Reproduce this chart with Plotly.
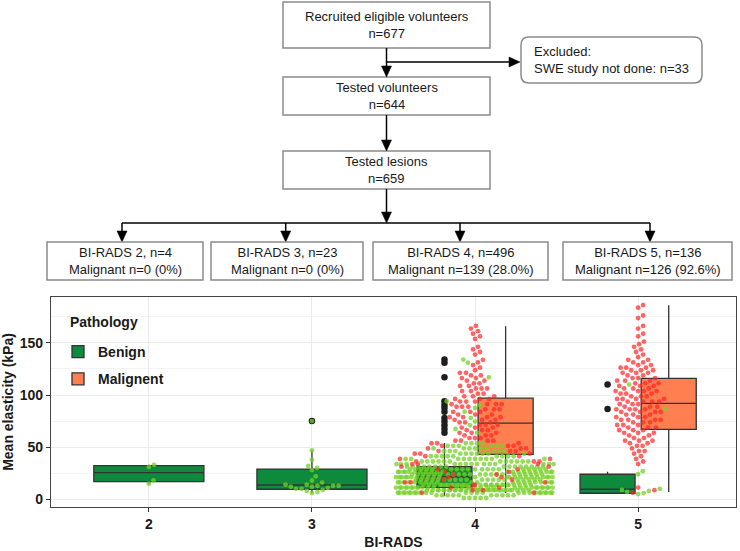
import numpy as np
import plotly.graph_objects as go

W, H = 740, 551

# ---------------- flowchart content ----------------
top_box_texts = ["Recruited eligible volunteers<br>n=677",
                 "Tested volunteers<br>n=644",
                 "Tested lesions<br>n=659"]
excluded_text = "Excluded:<br>SWE study not done: n=33"
birads_box_texts = ["BI-RADS 2, n=4<br>Malignant n=0 (0%)",
                    "BI-RADS 3, n=23<br>Malignant n=0 (0%)",
                    "BI-RADS 4, n=496<br>Malignant n=139 (28.0%)",
                    "BI-RADS 5, n=136<br>Malignant n=126 (92.6%)"]

# ---------------- chart data ----------------
categories = [2, 3, 4, 5]
tick_labels = ["2", "3", "4", "5"]
group_names = ["Benign", "Malignent"]
legend_title = "Pathology"

# box statistics (kPa)
benign_cats = [2, 3, 4, 5]
benign_q1 = [17.0, 9.6, 11.5, 5.8]
benign_median = [25.5, 13.7, 21.4, 9.6]
benign_q3 = [32.3, 29.0, 31.3, 24.0]
benign_lower = [15.0, 6.0, 3.0, 5.0]
benign_upper = [33.0, 47.0, 54.0, 26.5]

malig_cats = [4, 5]
malig_q1 = [43.0, 67.0]
malig_median = [73.0, 92.0]
malig_q3 = [97.0, 116.0]
malig_lower = [6.0, 7.0]
malig_upper = [166.0, 186.0]

# outliers (benign only)
benign_outliers_3 = [75.0]
benign_outliers_4 = [134, 131, 117, 94, 90.5, 87.6, 84, 78, 74.5, 71, 67.5, 63.7]
benign_outliers_5 = [110, 86.6]

# individual lesions (kPa)
benign_points_2 = [15, 18, 31, 33]
benign_points_3 = [6, 7, 8, 9, 10, 10, 11, 12, 12, 13, 13, 13, 14, 14, 16, 18,
                   22, 28, 30, 32, 38, 47, 75]
benign_points_5 = [5, 6, 7, 8, 9, 10, 24, 27, 86.6, 110]
# counts per 2.5 kPa bin starting at 0 (estimated from the swarm)
bin_width = 2.5
benign_counts_4 = [5, 10, 25, 30, 31, 29, 20, 20, 23, 22, 21, 19, 16, 14, 12, 10,
                   9, 7, 6, 6, 6, 4]
malig_counts_4 = [0, 0, 2, 2, 2, 2, 3, 2, 2, 2, 2, 2, 2, 3, 3, 2, 2, 3, 3, 3,
                  3, 3, 4, 3, 3, 3, 3, 3, 3, 3, 3, 4, 3, 3, 3, 3, 4, 3, 3, 3,
                  2, 2, 3, 2, 2, 2, 2, 2, 2, 1, 1, 1, 1, 1, 0, 1, 1, 1, 1, 0,
                  0, 1, 1, 1, 1, 1, 1, 0]
malig_counts_5 = [0, 0, 1, 1, 1, 0, 0, 0, 0, 0, 0, 0, 0, 1, 1, 1, 1, 1, 2, 1,
                  2, 2, 3, 2, 2, 3, 3, 3, 3, 3, 4, 3, 3, 4, 4, 3, 3, 4, 4, 3,
                  3, 4, 3, 3, 3, 3, 3, 2, 3, 3, 3, 2, 2, 2, 1, 1, 1, 1, 1, 1,
                  1, 0, 1, 1, 0, 1, 1, 0, 0, 1, 1, 0, 0, 1, 1, 0]


def expand(counts):
    vals = []
    for i, c in enumerate(counts):
        vals += [(i + 0.5) * bin_width] * c
    return vals


points = {
    2: (benign_points_2, []),
    3: (benign_points_3, []),
    4: (expand(benign_counts_4) + benign_outliers_4, expand(malig_counts_4)),
    5: (benign_points_5, expand(malig_counts_5)),
}

# ---------------- geometry of panel ----------------
X0, X1, Y0, Y1 = 51, 736, 297, 507
XR = [1.4, 5.6]
YR = [-7.4, 194]
ppx = (X1 - X0) / (XR[1] - XR[0])
ppy = (Y1 - Y0) / (YR[1] - YR[0])


def swarm(values, d=5.6, corral=0.97):
    vals = np.asarray(values, float)
    order = np.argsort(vals, kind="stable")
    P = np.zeros((0, 2))
    xs = np.zeros(len(vals))
    for idx in order:
        y = vals[idx] * ppy
        near = P[np.abs(P[:, 1] - y) < d] if len(P) else P
        if len(near):
            dy = near[:, 1] - y
            dx = np.sqrt(np.maximum(d * d - dy * dy, 0))
            c = np.concatenate([[0.0], near[:, 0] + dx, near[:, 0] - dx])
            c = c[np.argsort(np.abs(c), kind="stable")]
            ok = ((c[:, None] - near[None, :, 0]) ** 2 + dy[None, :] ** 2
                  >= d * d - 1e-6).all(axis=1)
            x = c[ok.argmax()]
        else:
            x = 0.0
        P = np.vstack([P, [x, y]])
        xs[idx] = x
    w = corral * ppx
    xs = ((xs + w / 2) % w) - w / 2
    return xs / ppx


bx, by, mx, my = [], [], [], []
for cat in categories:
    b, m = points[cat]
    allv = list(b) + list(m)
    off = swarm(allv)
    for k, v in enumerate(allv):
        if k < len(b):
            bx.append(cat + off[k]); by.append(v)
        else:
            mx.append(cat + off[k]); my.append(v)

DODGE, PAD = 0.75, 0.9


def dodge(cat, gi, n):
    w = DODGE / n
    return cat - DODGE / 2 + w * (gi + 0.5), w * PAD


GREEN_BOX = "#0E8A3C"
CORAL = "#FF7F50"
OUTLINE = "#333333"

fig = go.Figure()

n_groups = {c: (1 if c in (2, 3) else 2) for c in categories}
single = [i for i, c in enumerate(benign_cats) if n_groups[c] == 1]
double = [i for i, c in enumerate(benign_cats) if n_groups[c] == 2]
for sel, show in ((single, True), (double, False)):
    pos = [dodge(benign_cats[i], 0, n_groups[benign_cats[i]]) for i in sel]
    fig.add_trace(go.Box(
        x=[p[0] for p in pos], q1=[benign_q1[i] for i in sel],
        median=[benign_median[i] for i in sel], q3=[benign_q3[i] for i in sel],
        lowerfence=[benign_lower[i] for i in sel], upperfence=[benign_upper[i] for i in sel],
        width=pos[0][1], fillcolor=GREEN_BOX, line=dict(color=OUTLINE, width=1.3),
        whiskerwidth=0, boxpoints=False, name=group_names[0], legendgroup="b",
        showlegend=show, hoverinfo="skip"))
pos = [dodge(c, 1, 2) for c in malig_cats]
fig.add_trace(go.Box(
    x=[p[0] for p in pos], q1=malig_q1, median=malig_median, q3=malig_q3,
    lowerfence=malig_lower, upperfence=malig_upper, width=pos[0][1],
    fillcolor=CORAL, line=dict(color=OUTLINE, width=1.3), whiskerwidth=0,
    boxpoints=False, name=group_names[1], legendgroup="m", hoverinfo="skip"))

ox, oy = [], []
for cat, vals in ((3, benign_outliers_3), (4, benign_outliers_4), (5, benign_outliers_5)):
    p = dodge(cat, 0, n_groups[cat])[0]
    ox += [p] * len(vals); oy += list(vals)
fig.add_trace(go.Scatter(x=ox, y=oy, mode="markers", showlegend=False,
                         marker=dict(color="#1e1e1e", size=6.5, line=dict(width=0)),
                         hoverinfo="skip"))

fig.add_trace(go.Scatter(x=bx, y=by, mode="markers", showlegend=False,
                         marker=dict(color="rgba(118,208,40,0.75)", size=4.8, line=dict(width=0)),
                         hoverinfo="skip"))
fig.add_trace(go.Scatter(x=mx, y=my, mode="markers", showlegend=False,
                         marker=dict(color="rgba(255,35,35,0.7)", size=4.8, line=dict(width=0)),
                         hoverinfo="skip"))

# ---------------- flowchart ----------------
def fx(x): return x / W
def fy(y): return 1 - y / H


shapes = []
BORDER = dict(color="#8a8a8a", width=1.5)
BLACK = dict(color="black", width=1.5)


def rect(x0, y0, x1, y1):
    shapes.append(dict(type="rect", xref="paper", yref="paper", x0=fx(x0), x1=fx(x1),
                       y0=fy(y1), y1=fy(y0), line=BORDER, fillcolor="white"))


def seg(x0, y0, x1, y1):
    shapes.append(dict(type="line", xref="paper", yref="paper", x0=fx(x0), y0=fy(y0),
                       x1=fx(x1), y1=fy(y1), line=BLACK))


def head_down(x, y):
    shapes.append(dict(type="path", xref="paper", yref="paper",
                       path=f"M{fx(x-5)},{fy(y-11)} L{fx(x+5)},{fy(y-11)} L{fx(x)},{fy(y)} Z",
                       fillcolor="black", line=dict(color="black", width=0.5)))


def head_right(x, y):
    shapes.append(dict(type="path", xref="paper", yref="paper",
                       path=f"M{fx(x-11)},{fy(y-5)} L{fx(x-11)},{fy(y+5)} L{fx(x)},{fy(y)} Z",
                       fillcolor="black", line=dict(color="black", width=0.5)))


def rrect(x0, y0, x1, y1, r):
    p = (f"M{fx(x0+r)},{fy(y0)} L{fx(x1-r)},{fy(y0)} Q{fx(x1)},{fy(y0)} {fx(x1)},{fy(y0+r)} "
         f"L{fx(x1)},{fy(y1-r)} Q{fx(x1)},{fy(y1)} {fx(x1-r)},{fy(y1)} "
         f"L{fx(x0+r)},{fy(y1)} Q{fx(x0)},{fy(y1)} {fx(x0)},{fy(y1-r)} "
         f"L{fx(x0)},{fy(y0+r)} Q{fx(x0)},{fy(y0)} {fx(x0+r)},{fy(y0)} Z")
    shapes.append(dict(type="path", xref="paper", yref="paper", path=p,
                       line=BORDER, fillcolor="white"))


annotations = []
FLOWFONT = dict(family="Liberation Sans, Arial, sans-serif", size=13, color="#1a1a1a")


def label(x, y, text, anchor="center", font=FLOWFONT):
    annotations.append(dict(x=fx(x), y=fy(y), xref="paper", yref="paper", text=text,
                            showarrow=False, xanchor=anchor, yanchor="middle",
                            align=anchor if anchor != "center" else "center", font=font))


top_boxes = [(283, 2, 490, 48), (283, 77, 490, 115), (283, 151, 490, 189)]
for (x0, y0, x1, y1), t in zip(top_boxes, top_box_texts):
    rect(x0, y0, x1, y1)
    label((x0 + x1) / 2, (y0 + y1) / 2, t)

cx = 386.5
seg(cx, 48, cx, 70); head_down(cx, 77)
seg(cx, 62, 512, 62); head_right(cx + 133.5, 62)
seg(cx, 115, cx, 144); head_down(cx, 151)
seg(cx, 189, cx, 216); head_down(cx, 223)
seg(122, 223, 650, 223)

rrect(521, 37, 702, 83, 8)
label(532, 60, excluded_text, anchor="left")

bottom_boxes = [(47, 242, 203, 280), (211, 242, 363, 280), (373, 242, 548, 280), (563, 242, 732, 280)]
arrow_x = [122, 285.7, 460, 650]
for (x0, y0, x1, y1), t, ax in zip(bottom_boxes, birads_box_texts, arrow_x):
    seg(ax, 223, ax, 235); head_down(ax, 242)
    rect(x0, y0, x1, y1)
    label((x0 + x1) / 2, (y0 + y1) / 2, t)

AX_FONT = dict(family="Liberation Sans, Arial, sans-serif", size=14, color="#1a1a1a", weight="bold")

# legend title as text inside the panel
label(68, 322, legend_title, anchor="left", font=AX_FONT)

fig.update_layout(
    width=W, height=H, margin=dict(l=0, r=0, t=0, b=0),
    paper_bgcolor="white", plot_bgcolor="white", boxmode="overlay",
    shapes=shapes, annotations=annotations,
    xaxis=dict(domain=[X0 / W, X1 / W], range=XR, tickmode="array", tickvals=categories,
               ticktext=tick_labels, showgrid=True, gridcolor="#ebebeb", gridwidth=1,
               zeroline=False, showline=True, mirror=True, linecolor="#444444", linewidth=1.2,
               ticks="outside", ticklen=4, tickcolor="#333333", tickfont=AX_FONT,
               title=dict(text="BI-RADS", font=AX_FONT, standoff=6), automargin=False),
    yaxis=dict(domain=[1 - Y1 / H, 1 - Y0 / H], range=YR, tickmode="array",
               tickvals=[0, 50, 100, 150], showgrid=True, gridcolor="#ebebeb", gridwidth=1,
               minor=dict(tickmode="array", tickvals=[25, 75, 125, 175], showgrid=True,
                          gridcolor="#f3f3f3", gridwidth=0.6, ticks=""),
               zeroline=False, showline=True, mirror=True, linecolor="#444444", linewidth=1.2,
               ticks="outside", ticklen=4, tickcolor="#333333", tickfont=AX_FONT,
               title=dict(text="Mean elasticity (kPa)", font=AX_FONT, standoff=6),
               automargin=False),
    legend=dict(x=58 / W, y=1 - 336 / H, xanchor="left", yanchor="top",
                bgcolor="rgba(0,0,0,0)", tracegroupgap=6,
                font=dict(family="Liberation Sans, Arial, sans-serif", size=14,
                          color="#1a1a1a", weight="bold")),
    font=dict(family="Liberation Sans, Arial, sans-serif"),
)

fig.write_html("out.html", config={"displayModeBar": False},
               post_script="document.body.style.margin='0px';")
